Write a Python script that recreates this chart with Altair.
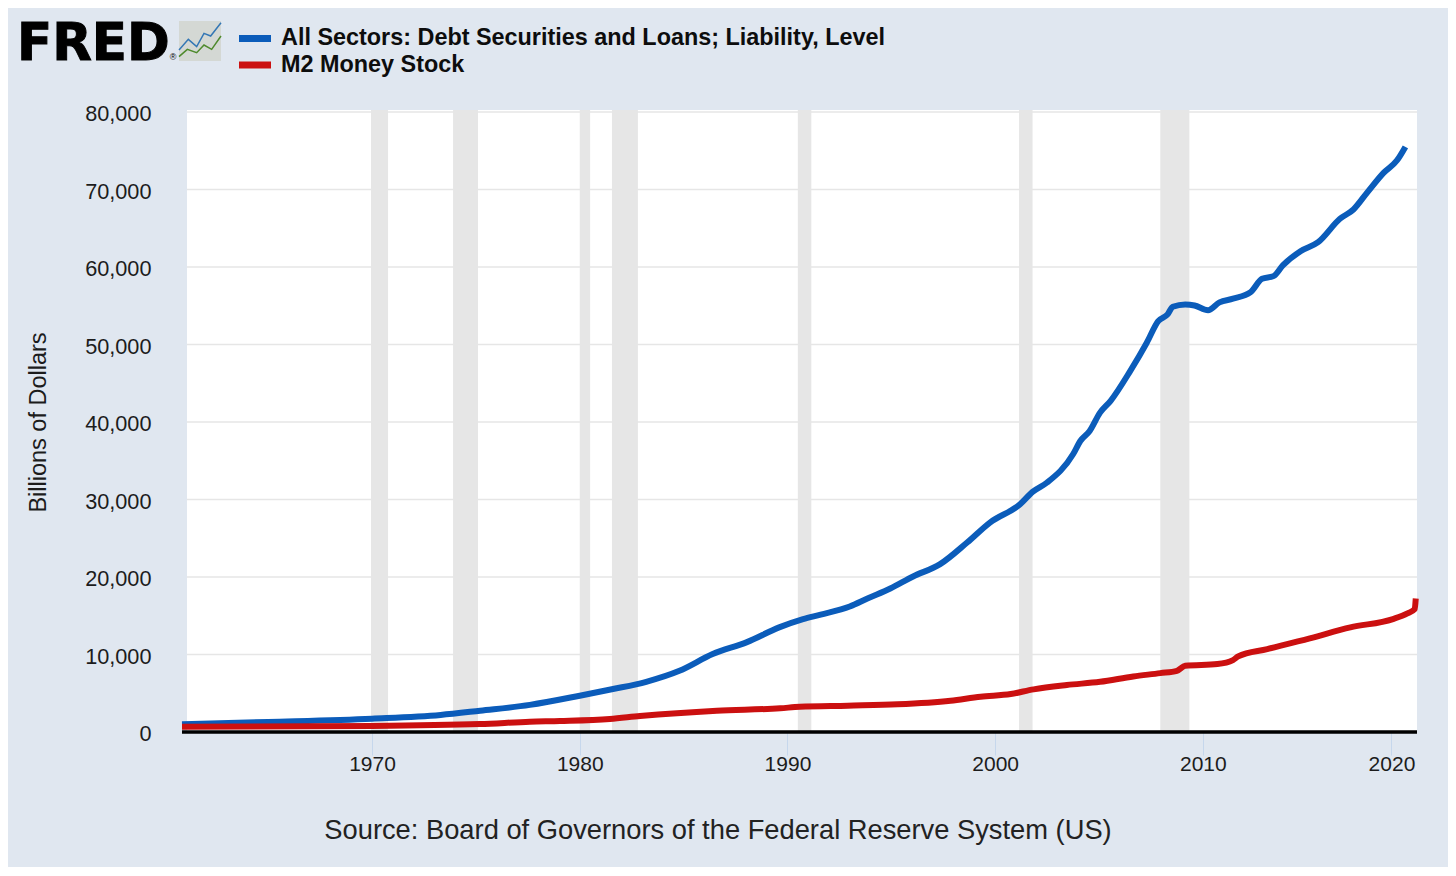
import altair as alt
import pandas as pd

BG = "#e0e7f0"
SERIES = ["All Sectors: Debt Securities and Loans; Liability, Level", "M2 Money Stock"]
COLORS = ["#0b5cba", "#cb1010"]

debt_years = [1960.85, 1965, 1970, 1973.3, 1975.2, 1977.6, 1980, 1981.6, 1983.2, 1984.8, 1986.4, 1988.05,
              1989.6, 1990.75, 1991.6, 1993.0, 1993.85, 1994.95, 1996.05, 1997.35, 1998.65, 1999.75,
              2001.2, 2001.8, 2002.5, 2003.75, 2004.1, 2004.55, 2005.05, 2005.55, 2006.5, 2007.3,
              2007.85, 2008.3, 2008.55, 2009.15, 2009.6, 2010.25, 2010.8, 2011.45, 2012.3, 2012.85,
              2013.4, 2013.85, 2014.7, 2015.55, 2016.6, 2017.25, 2017.9, 2018.7, 2019.35, 2019.75]
debt_values = [1000, 1300, 1720, 2200, 2750, 3500, 4680, 5540, 6480, 7900, 10050, 11600,
               13500, 14570, 15150, 16200, 17230, 18520, 20070, 21660, 24450, 27030,
               29390, 30980, 32190, 35830, 37550, 38840, 41210, 42700, 46570, 50230,
               53020, 53880, 54870, 55170, 55040, 54430, 55430, 55910, 56760, 58480,
               58820, 60200, 62040, 63200, 66220, 67420, 69570, 72150, 73770, 75500]

m2_years = [1960.85, 1970, 1975.2, 1977.6, 1979.05, 1981.45, 1982.9, 1986.6, 1989.65, 1990.6, 1992.9,
            1995.3, 1997.85, 1999.3, 2000.75, 2001.85, 2003.45, 2005.05, 2006.65, 2007.95, 2008.75, 2009.15,
            2010.7, 2011.45, 2011.7, 2013.1, 2015.15, 2017.1, 2019.15, 2019.85, 2020.2, 2020.25]
m2_values = [680, 780, 1020, 1330, 1420, 1680, 2060, 2750, 3060, 3260, 3400,
             3570, 4040, 4560, 4900, 5500, 6060, 6480, 7170, 7600, 7900, 8550,
             8770, 9280, 9760, 10700, 12080, 13500, 14570, 15300, 15850, 17230]

rec_start = [1969.95, 1973.9, 1980.0, 1981.55, 1990.5, 2001.15, 2007.95]
rec_end = [1970.77, 1975.1, 1980.5, 1982.8, 1991.15, 2001.8, 2009.35]

y_ticks = [0, 10000, 20000, 30000, 40000, 50000, 60000, 70000, 80000]
x_ticks = [1970, 1980, 1990, 2000, 2010, 2019.08]

icon_x = [537, 565, 590, 612, 632, 663]
icon_blue = [150, 118, 140, 100, 108, 68]
icon_green_x = [537, 562, 590, 612, 635, 663]
icon_green = [170, 148, 158, 135, 148, 108]

XMIN, XMAX = 1960.85, 2020.31
PLOT_LEFT = 1961.09
x_scale = alt.Scale(domain=[XMIN, XMAX], nice=False, zero=False)
y_scale = alt.Scale(domain=[0, 80000], nice=False)
color_scale = alt.Scale(domain=SERIES, range=COLORS)

x_axis = alt.Axis(
    values=x_ticks, grid=False, domain=False, tickColor="#c6d7ec", tickSize=23, tickWidth=1,
    labelFontSize=21, labelFont="Liberation Sans", labelColor="#1c1c1c", labelPadding=-2,
    labelExpr="datum.value > 2015 ? '2020' : format(datum.value, 'd')", labelFlush=False,
    labelOverlap=False, title=None,
)
y_axis = alt.Axis(
    values=y_ticks, grid=False, domain=False, ticks=False, format=",d",
    labelFontSize=21.7, labelFont="Liberation Sans", labelColor="#1c1c1c", labelPadding=31, labelOffset=1.5,
    title="Billions of Dollars",
    titleFontSize=23.5, titleFont="Liberation Sans", titleColor="#1c1c1c", titleFontWeight="normal",
    titlePadding=34,
)


def X(field):
    return alt.X(field, scale=x_scale, axis=x_axis)


def Y(field):
    return alt.Y(field, scale=y_scale, axis=y_axis)


df = pd.concat([
    pd.DataFrame({"year": debt_years, "value": debt_values, "series": SERIES[0]}),
    pd.DataFrame({"year": m2_years, "value": m2_values, "series": SERIES[1]}),
])

white = alt.Chart(pd.DataFrame({"a": [PLOT_LEFT], "b": [XMAX], "t": [80260], "l": [0]})).mark_rect(
    color="white"
).encode(x=X("a:Q"), x2="b:Q", y=Y("t:Q"), y2="l:Q")
rec = alt.Chart(pd.DataFrame({"a": rec_start, "b": rec_end, "t": [80260] * 7, "l": [0] * 7})).mark_rect(
    color="#e6e6e6"
).encode(x=X("a:Q"), x2="b:Q", y=Y("t:Q"), y2="l:Q")
grid = alt.Chart(pd.DataFrame({"v": y_ticks[1:], "a": [PLOT_LEFT] * 8, "b": [XMAX] * 8})).mark_rule(
    color="#e6e6e6", strokeWidth=1.5
).encode(x=X("a:Q"), x2="b:Q", y=Y("v:Q"))
lines = alt.Chart(df).mark_line(strokeWidth=6, strokeJoin="round", interpolate="monotone", clip=False).encode(
    x=X("year:Q"),
    y=Y("value:Q"),
    color=alt.Color("series:N", scale=color_scale, legend=None),
)
base = alt.Chart(pd.DataFrame({"a": [XMIN], "b": [XMAX], "v": [0]})).mark_rule(
    color="black", strokeWidth=3.5
).encode(x=X("a:Q"), x2="b:Q", y=Y("v:Q"))

key_text = []
for name, col, ys, yt in zip(SERIES, COLORS, [-73.5, -47], [-74.5, -47]):
    d = pd.DataFrame({"t": [name]})
    key_text.append(
        alt.Chart(d).mark_rule(color=col, strokeWidth=7).encode(x=alt.value(57), x2=alt.value(89), y=alt.value(ys))
    )
    key_text.append(
        alt.Chart(d).mark_text(
            font="Liberation Sans", fontWeight="bold", fontSize=23.4, color="#0d0d0d", align="left", baseline="middle"
        ).encode(text="t:N", x=alt.value(99), y=alt.value(yt))
    )

source = alt.Chart(pd.DataFrame({"t": ["Source: Board of Governors of the Federal Reserve System (US)"]})).mark_text(
    font="Liberation Sans", fontSize=27.3, color="#222222", align="center", baseline="middle"
).encode(text="t:N", x=alt.value(536), y=alt.value(719))
logo = alt.Chart(pd.DataFrame({"t": ["FRED"]})).mark_text(
    font="DejaVu Sans", fontWeight="bold", fontSize=51.5, color="black", stroke="black", strokeWidth=1,
    align="left", baseline="alphabetic"
).encode(text="t:N", x=alt.value(-165), y=alt.value(-52))
reg = alt.Chart(pd.DataFrame({"t": ["®"]})).mark_text(
    font="Liberation Sans", fontSize=9, color="black", align="center", baseline="middle"
).encode(text="t:N", x=alt.value(-9), y=alt.value(-55))

main = alt.layer(white, rec, grid, lines, base, source, logo, reg, *key_text)

ix = alt.Scale(domain=[537, 663], range=[-3, 39], nice=False, zero=False)
iy = alt.Scale(domain=[63, 183], range=[-91, -51], nice=False, zero=False)
icon_bg = alt.Chart(pd.DataFrame({"a": [537], "b": [663], "t": [63], "l": [183]})).mark_rect(
    color="#d4d8d4"
).encode(x=alt.X("a:Q", scale=ix, axis=None), x2="b:Q", y=alt.Y("t:Q", scale=iy, axis=None), y2="l:Q")
icon_l1 = alt.Chart(pd.DataFrame({"a": icon_x, "t": icon_blue})).mark_line(color="#3477b5", strokeWidth=1.5).encode(
    x=alt.X("a:Q", scale=ix, axis=None), y=alt.Y("t:Q", scale=iy, axis=None))
icon_l2 = alt.Chart(pd.DataFrame({"a": icon_green_x, "t": icon_green})).mark_line(color="#4f8a2d", strokeWidth=1.5).encode(
    x=alt.X("a:Q", scale=ix, axis=None), y=alt.Y("t:Q", scale=iy, axis=None))
icon = alt.layer(icon_bg, icon_l1, icon_l2)

chart = alt.layer(main, icon).resolve_scale(x="independent", y="independent").properties(
    width=1235, height=620, background=BG,
    padding={"left": 174, "top": 104, "right": 31, "bottom": 135},
    autosize=alt.AutoSizeParams(type="none"),
).configure_view(stroke=None)

chart.save("out.html", embed_options={"renderer": "svg", "actions": False})
